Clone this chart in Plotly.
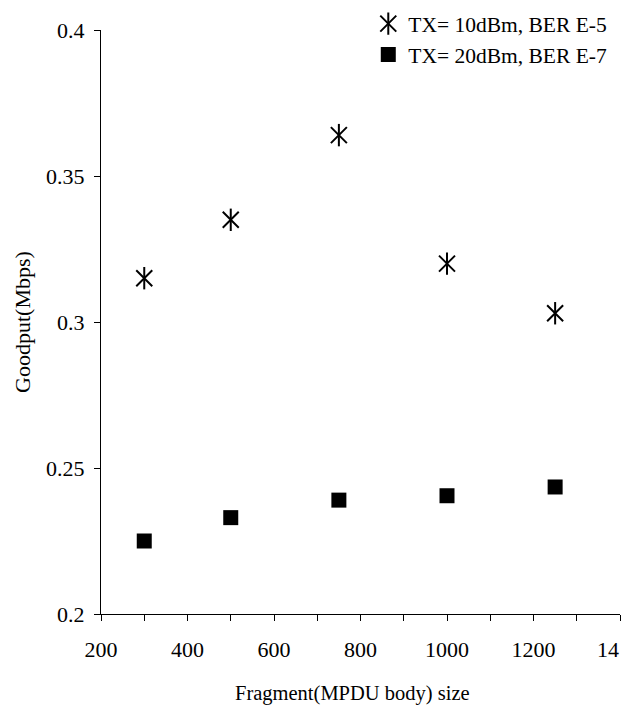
import plotly.graph_objects as go

# Goodput vs. fragment (MPDU body) size for two transmit-power settings
fragment_size = [300, 500, 750, 1000, 1250]
goodput_tx10 = [0.315, 0.335, 0.364, 0.320, 0.303]
goodput_tx20 = [0.225, 0.233, 0.239, 0.2405, 0.2435]

series_tx10 = "TX= 10dBm, BER E-5"
series_tx20 = "TX= 20dBm, BER E-7"

x_tick_values = list(range(200, 1401, 100))
x_tick_labels = [str(v) if v % 200 == 0 else "" for v in x_tick_values]
# the rightmost label only fits as its first two digits
x_edge_value = 1400
x_edge_label = "14"
x_tick_labels[-1] = ""
y_tick_values = [0.2, 0.25, 0.3, 0.35, 0.4]
y_tick_labels = ["0.2", "0.25", "0.3", "0.35", "0.4"]

FONT = "Liberation Serif, Times New Roman, serif"
INK = "black"

fig = go.Figure()

# Star-like marker: an "x" with a vertical stroke through it
fig.add_trace(go.Scatter(
    x=fragment_size, y=goodput_tx10, mode="markers", name=series_tx10,
    marker=dict(symbol="x-thin-open", size=16, color=INK,
                line=dict(width=2, color=INK)),
    legend="legend",
))
fig.add_trace(go.Scatter(
    x=fragment_size, y=goodput_tx10, mode="markers", name=" ",
    marker=dict(symbol="line-ns-open", size=16, color=INK,
                line=dict(width=2, color=INK)),
    legend="legend2", hoverinfo="skip",
))
fig.add_trace(go.Scatter(
    x=fragment_size, y=goodput_tx20, mode="markers", name=series_tx20,
    marker=dict(symbol="square", size=15, color=INK,
                line=dict(width=0)),
    legend="legend",
))

axis_common = dict(showgrid=False, zeroline=False, tickcolor=INK,
                   ticklen=6, tickwidth=1, automargin=False)

legend_box = dict(
    x=0.515, y=1.046, xanchor="left", yanchor="top",
    bgcolor="rgba(0,0,0,0)", font=dict(size=21.5),
    itemwidth=30, tracegroupgap=0,
)

fig.update_layout(
    width=622, height=709,
    margin=dict(l=101, r=2, t=30, b=95),
    paper_bgcolor="white", plot_bgcolor="white",
    font=dict(family=FONT, size=21, color=INK),
    xaxis=dict(
        range=[200, 1400], tickmode="array", tickvals=x_tick_values,
        ticktext=x_tick_labels, ticks="outside", showline=True,
        linecolor=INK, linewidth=1, tickfont=dict(size=22),
        ticklabelstandoff=10,
        **axis_common,
    ),
    yaxis=dict(
        range=[0.2, 0.4], tickmode="array", tickvals=y_tick_values,
        ticktext=y_tick_labels, ticks="outside", showline=True,
        linecolor=INK, linewidth=1, tickfont=dict(size=22),
        ticklabelstandoff=5,
        title=dict(text="Goodput(Mbps)", standoff=9, font=dict(size=22)),
        **axis_common,
    ),
    # inward tick marks, so each tick crosses the axis line
    xaxis2=dict(
        range=[200, 1400], overlaying="x", anchor="y", side="bottom",
        tickmode="array", tickvals=x_tick_values, showticklabels=False,
        ticks="inside", showline=False, **axis_common,
    ),
    yaxis2=dict(
        range=[0.2, 0.4], overlaying="y", anchor="x", side="left",
        tickmode="array", tickvals=y_tick_values, showticklabels=False,
        ticks="inside", showline=False, **axis_common,
    ),
    legend=legend_box,
    legend2=legend_box,
    showlegend=True,
    annotations=[
        dict(
            text="Fragment(MPDU body) size", xref="paper", yref="paper",
            x=0.484, y=0, xanchor="center", yanchor="middle", yshift=-79,
            showarrow=False, font=dict(size=20.5),
        ),
        dict(
            text=x_edge_label, xref="x", yref="paper",
            x=x_edge_value, y=0, xanchor="right", yanchor="middle",
            xshift=1, yshift=-35, showarrow=False, font=dict(size=22),
        ),
    ],
)

fig.write_html("out.html")
